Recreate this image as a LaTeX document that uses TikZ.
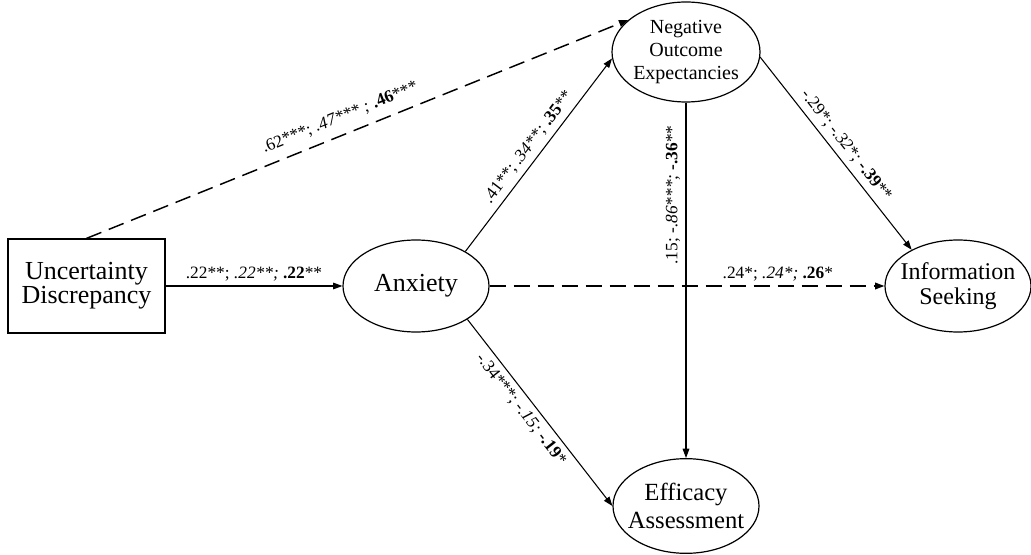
\documentclass[tikz,border=0pt]{standalone}
\usepackage{fontspec}
\setmainfont{Liberation Serif}
\usetikzlibrary{arrows.meta,shapes.geometric}

\begin{document}
\begin{tikzpicture}[x=0.75pt,y=-0.75pt,
        var/.style={ellipse,draw,line width=0.9pt,inner xsep=-20pt,inner ysep=0pt,minimum width=109.5pt,minimum height=69pt,align=center,font=\fontsize{19.5}{19}\selectfont},
        direct/.style={line width=0.8pt,-{Triangle[length=7pt,width=5pt]}},
        dashpath/.style={direct,line width=1.1pt,dash pattern=on 12pt off 6pt},
        coef/.style={font=\fontsize{13}{14}\selectfont,inner sep=4pt}]
    \useasboundingbox (0,0) rectangle (1031,555);
    \node [draw,line width=0.9pt,minimum width=117.75pt,minimum height=70.5pt,align=center,font=\fontsize{19.5}{16.5}\selectfont] (disc) at (86.5,286) {Uncertainty\\Discrepancy};
    \node [var] (anx) at (416,286) {Anxiety};
    \node [var,minimum width=111pt,minimum height=75pt,font=\fontsize{15}{17}\selectfont] (noe) at (686,52) {Negative\\Outcome\\Expectancies};
    \node [var,font=\fontsize{18}{19}\selectfont] (seek) at (958,286) {Information\\Seeking};
    \node [var,minimum height=71pt,font=\fontsize{18.5}{21}\selectfont] (eff) at (686,506) {Efficacy\\Assessment};

    \draw [direct] (disc) -- node [coef,above,inner sep=3pt] {.22**; \textit{.22**;} \textbf{.22}**} (anx);
    \draw [dashpath] (disc.north) -- node [coef,sloped,above,pos=0.48,yshift=3pt] {.62***; \textit{.47*** ;} \textbf{.46}***} (noe.151);
    \draw [direct] (anx.35) -- node [coef,sloped,above] {.41**; \textit{.34**;} \textbf{.35}**} (noe.185);
    \draw [dashpath] (anx) -- node [coef,above,pos=0.73,inner sep=3pt] {.24*; \textit{.24*;} \textbf{.26}*} (seek);
    \draw [direct] (anx.-33) -- node [coef,sloped,below,pos=0.44] {-.34***; \textit{-.15;} \textbf{-.19}*} (eff.west);
    \draw [direct] (noe) -- node [coef,rotate=90,above,pos=0.26] {.15; \textit{-.86***;} \textbf{-.36}**} (eff);
    \draw [direct] (noe.-4) -- node [coef,sloped,above] {-.29*; \textit{-.32*;} \textbf{-.39}**} (seek.142);
\end{tikzpicture}
\end{document}
